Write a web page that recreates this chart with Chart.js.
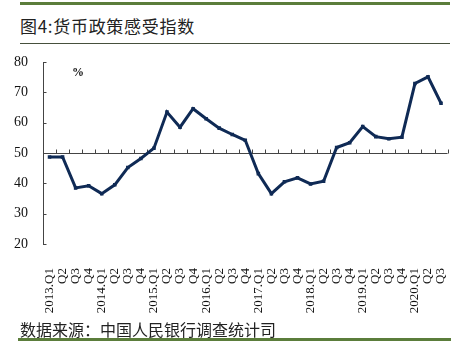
<!DOCTYPE html>
<html>
<head>
<meta charset="utf-8">
<script src="https://cdn.jsdelivr.net/npm/chart.js@4"></script>
<style>
  body { margin: 0; background: #fff; }
  #wrap { position: relative; width: 473px; height: 343px; overflow: hidden; }
  #myChart { position: absolute; left: 0; top: 0; }
  .bar { position: absolute; }
  .txt { position: absolute; font-family: 'Noto Sans CJK SC', sans-serif; color: #222; white-space: nowrap; }
</style>
</head>
<body>
<div id="wrap">
  <div class="bar" style="left:20px;top:2px;width:430px;height:3px;background:#5b7d3b"></div>
  <div class="txt" id="title" style="left:20px;top:16px;font-size:17px;line-height:20px;letter-spacing:0.7px">图4:货币政策感受指数</div>
  <div class="bar" style="left:20px;top:43px;width:430px;height:1px;background:#46503d"></div>
  <canvas id="myChart" width="473" height="343"></canvas>
  <div class="txt" id="source" style="left:20px;top:319px;font-size:16px;line-height:20px">数据来源：中国人民银行调查统计司</div>
  <div class="bar" style="left:18px;top:338px;width:433px;height:3px;background:#5b7d3b"></div>
</div>
<script>
const lineColor = '#0f2a55'
const axisColor = '#444'

const quarters = ['2013.Q1', 'Q2', 'Q3', 'Q4', '2014.Q1', 'Q2', 'Q3', 'Q4',
  '2015.Q1', 'Q2', 'Q3', 'Q4', '2016.Q1', 'Q2', 'Q3', 'Q4',
  '2017.Q1', 'Q2', 'Q3', 'Q4', '2018.Q1', 'Q2', 'Q3', 'Q4',
  '2019.Q1', 'Q2', 'Q3', 'Q4', '2020.Q1', 'Q2', 'Q3']
const policyIndex = [48.7, 48.7, 38.5, 39.2, 36.6, 39.5, 45.2, 48.2,
  51.6, 63.5, 58.5, 64.6, 61.3, 58.2, 56.1, 54.2,
  43.2, 36.6, 40.5, 41.8, 39.8, 40.7, 51.8, 53.4,
  58.7, 55.4, 54.7, 55.2, 72.9, 75.1, 66.4]
const yTicks = [20, 30, 40, 50, 60, 70, 80]
const baseLine = 50

// axis at 50 with ticks pointing up, inner ticks on y axis, "%" unit
const axisPlugin = {
  id: 'axisPlugin',
  beforeDatasetsDraw(chart) {
    var c = chart.ctx
    var xs = chart.scales.x
    var ys = chart.scales.y
    var area = chart.chartArea
    var y50 = Math.round(ys.getPixelForValue(baseLine)) + 0.5
    var step = xs.getPixelForValue(1) - xs.getPixelForValue(0)
    c.save()
    c.strokeStyle = axisColor
    c.lineWidth = 1
    c.beginPath()
    c.moveTo(area.left, y50)
    c.lineTo(area.right, y50)
    for (var i = 1; i <= quarters.length; i++) {
      var x = Math.round(xs.getPixelForValue(i) - step / 2) + 0.5
      c.moveTo(x, y50)
      c.lineTo(x, y50 - 4)
    }
    var lx = Math.round(area.left) + 0.5
    yTicks.forEach(function(v) {
      var y = Math.round(ys.getPixelForValue(v)) + 0.5
      c.moveTo(lx, y)
      c.lineTo(lx + 3, y)
    })
    c.stroke()
    c.fillStyle = '#111'
    c.font = 'bold 12px "Liberation Serif"'
    c.textAlign = 'center'
    c.textBaseline = 'middle'
    c.fillText('%', area.left + 35, area.top + 11)
    c.restore()
  }
}

var ctx = document.getElementById('myChart')
var lineChart = new Chart(ctx, {
  type: 'line',
  data: {
    labels: quarters,
    datasets: [{
      data: policyIndex,
      borderColor: lineColor,
      backgroundColor: lineColor,
      borderWidth: 3,
      pointStyle: 'rect',
      pointRadius: 2.5,
      pointBorderWidth: 0,
      pointBackgroundColor: lineColor,
      tension: 0,
      fill: false,
    }]
  },
  options: {
    responsive: false,
    animation: false,
    layout: { padding: { left: 0, right: 22, top: 62, bottom: 30 } },
    plugins: { legend: { display: false }, tooltip: { enabled: false } },
    scales: {
      x: {
        offset: true,
        grid: { display: false },
        border: { display: false },
        ticks: {
          autoSkip: false,
          minRotation: 90,
          maxRotation: 90,
          padding: 16,
          color: '#111',
          font: { family: 'Liberation Serif', size: 13 },
        },
        afterFit(scale) { scale.height = 69 },
      },
      y: {
        min: 20,
        max: 80,
        ticks: {
          stepSize: 10,
          padding: 15,
          color: '#111',
          font: { family: 'Liberation Serif', size: 14 },
        },
        grid: { display: false, drawTicks: false },
        border: { display: true, color: axisColor, width: 1 },
        afterFit(scale) { scale.width = 43 },
      }
    }
  },
  plugins: [axisPlugin]
})
</script>
</body>
</html>
